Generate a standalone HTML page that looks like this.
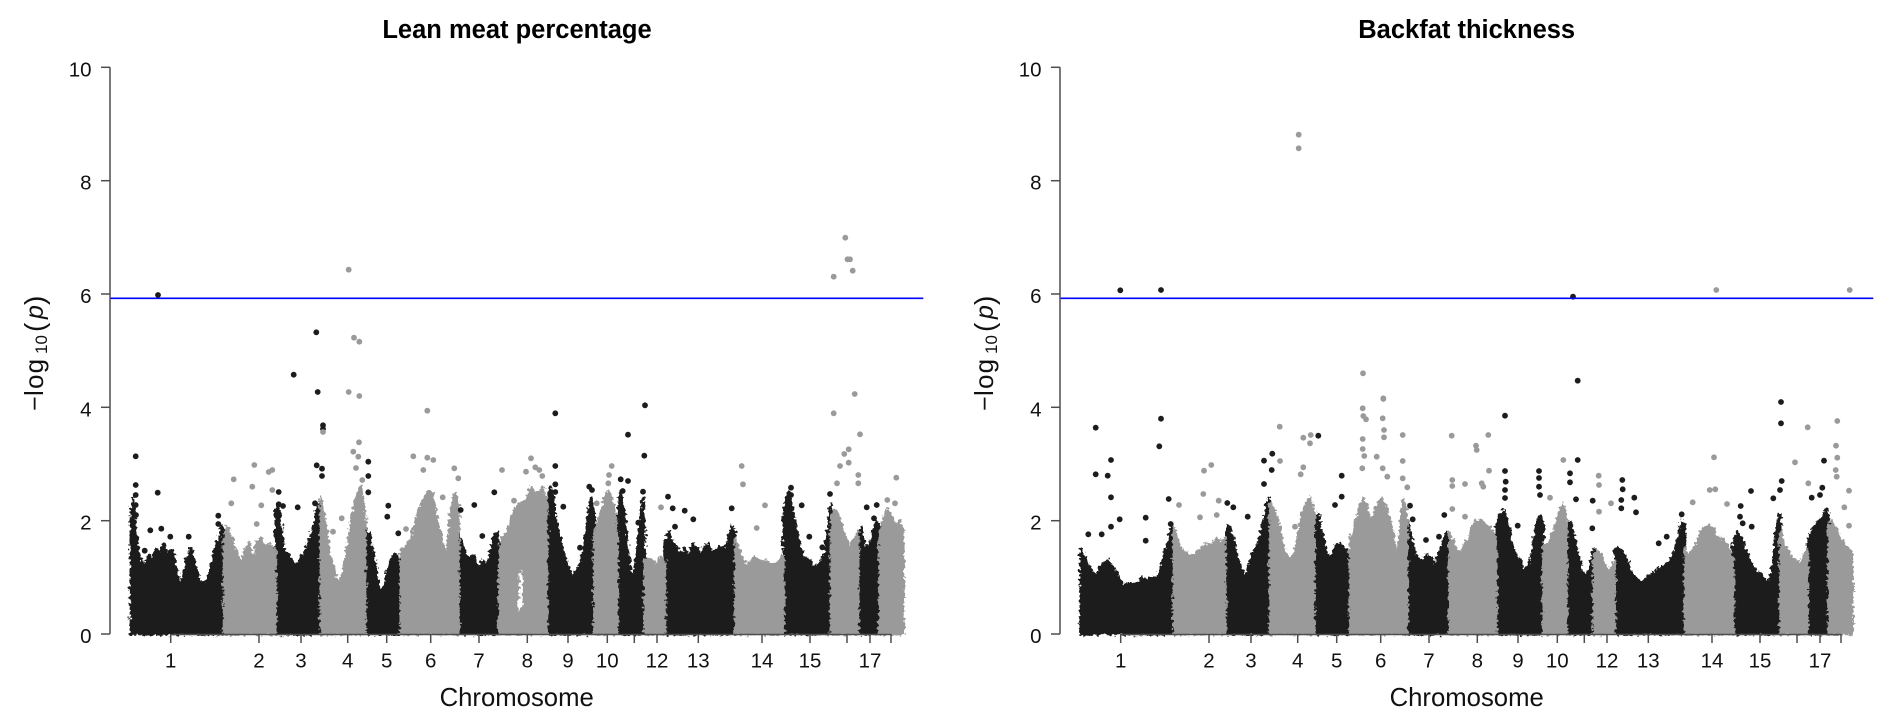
<!DOCTYPE html>
<html><head><meta charset="utf-8"><style>
html,body{margin:0;padding:0;background:#fff;}
svg{display:block;font-family:"Liberation Sans",Arial,sans-serif;}
</style></head><body>
<svg width="1892" height="726" viewBox="0 0 1892 726" xmlns="http://www.w3.org/2000/svg">
<defs>
<filter id="rough" x="-3%" y="-8%" width="106%" height="116%" color-interpolation-filters="sRGB">
<feTurbulence type="fractalNoise" baseFrequency="0.3" numOctaves="2" seed="3" result="n"/>
<feDisplacementMap in="SourceGraphic" in2="n" scale="7" xChannelSelector="R" yChannelSelector="G"/>
</filter>
</defs>
<rect width="1892" height="726" fill="#fff"/>

<!-- ================= LEFT PANEL ================= -->
<g>
<text x="517" y="38" text-anchor="middle" font-size="25.5" font-weight="bold" fill="#000">Lean meat percentage</text>
<g filter="url(#rough)">
<g transform="matrix(1 0 0 -56.67 0 634)" stroke-linejoin="round">
<g fill="#1c1c1c" stroke="#1c1c1c" stroke-width="2.5">
<polygon vector-effect="non-scaling-stroke" points="131,0 131,2.2 133,2.4 135,1.9 138,1.5 141,1.3 145,1.2 149,1.4 152,1.3 156,1.5 160,1.4 164,1.6 168,1.4 172,1.5 176,1.2 180,0.8 184,1.1 188,1.4 191,1.5 195,1.2 199,0.95 203,0.9 207,0.9 211,1.2 215,1.5 219,1.7 222,1.9 224,1.7 224,0"/>
<polygon vector-effect="non-scaling-stroke" points="275.7,0 275.7,2.2 278,2.3 281,1.9 284,1.5 288,1.4 292,1.3 296,1.2 300,1.35 304,1.4 308,1.6 312,1.8 315,2.0 318,2.3 320.7,2.2 320.7,0"/>
<polygon vector-effect="non-scaling-stroke" points="365.3,0 365.3,1.9 368,1.8 371,1.6 374,1.4 377,1.0 380,0.8 383,0.75 386,1.0 389,1.2 392,1.35 396,1.4 400.7,1.3 400.7,0"/>
<polygon vector-effect="non-scaling-stroke" points="458.7,0 458.7,1.8 462,1.6 466,1.4 470,1.3 474,1.4 478,1.1 482,1.3 486,1.2 490,1.4 494,1.7 497,1.8 499.3,1.5 499.3,0"/>
<polygon vector-effect="non-scaling-stroke" points="547,0 547,2.3 550,2.6 553,2.4 556,2.0 560,1.7 564,1.4 568,1.2 572,1.0 576,1.1 580,1.2 584,1.5 588,2.1 591,2.4 594.3,2.2 594.3,0"/>
<polygon vector-effect="non-scaling-stroke" points="617.3,0 617.3,2.0 620,2.5 623,2.3 626,1.8 629,1.3 632,1.0 635,1.1 638,1.6 641,2.1 643,2.4 644.7,1.8 644.7,0"/>
<polygon vector-effect="non-scaling-stroke" points="665,0 665,1.6 669,1.8 673,1.6 677,1.5 681,1.4 685,1.5 689,1.35 693,1.6 697,1.5 701,1.4 705,1.55 709,1.6 713,1.4 717,1.5 721,1.55 725,1.5 729,1.7 732,1.9 735.3,1.8 735.3,0"/>
<polygon vector-effect="non-scaling-stroke" points="783.7,0 783.7,2.1 786,2.4 789,2.5 792,2.2 795,2.0 798,1.7 801,1.5 805,1.35 809,1.3 813,1.2 817,1.2 821,1.3 825,1.4 828,1.9 831,2.3 831,0"/>
<polygon vector-effect="non-scaling-stroke" points="858.3,0 858.3,1.7 861,1.9 864,1.6 867,1.5 870,1.6 873,1.8 876,2.0 879.7,1.9 879.7,0"/>
</g>
<g fill="#9a9a9a" stroke="#9a9a9a" stroke-width="2.5">
<polygon vector-effect="non-scaling-stroke" points="224,0 224,1.7 227,1.9 230,1.8 233,1.6 237,1.4 241,1.2 245,1.5 249,1.6 253,1.3 257,1.6 261,1.7 265,1.5 269,1.6 273,1.5 275.7,1.5 275.7,0"/>
<polygon vector-effect="non-scaling-stroke" points="320.7,0 320.7,2.4 323,2.2 326,1.9 330,1.4 334,1.1 338,0.9 342,1.0 346,1.4 350,1.8 354,2.2 358,2.5 361,2.6 363,2.3 365.3,2.0 365.3,0"/>
<polygon vector-effect="non-scaling-stroke" points="400.7,0 400.7,1.5 404,1.5 408,1.6 412,1.7 416,2.0 420,2.2 424,2.4 428,2.5 432,2.5 436,2.1 440,1.8 444,1.5 447,1.4 450,2.0 453,2.4 456,2.5 458.7,2.2 458.7,0"/>
<polygon vector-effect="non-scaling-stroke" points="499.3,0 499.3,1.5 503,1.7 507,1.8 511,2.0 515,2.2 519,2.3 523,2.3 527,2.4 531,2.6 535,2.5 539,2.5 543,2.6 547,2.3 547,0"/>
<polygon vector-effect="non-scaling-stroke" points="594.3,0 594.3,1.8 598,2.0 602,2.2 606,2.5 610,2.5 614,2.2 617.3,1.8 617.3,0"/>
<polygon vector-effect="non-scaling-stroke" points="644.7,0 644.7,1.3 648,1.35 652,1.3 656,1.2 660,1.35 665,1.3 665,0"/>
<polygon vector-effect="non-scaling-stroke" points="735.3,0 735.3,1.7 739,1.5 743,1.3 747,1.2 751,1.3 755,1.35 759,1.3 763,1.25 767,1.3 771,1.2 775,1.25 779,1.3 783.7,1.4 783.7,0"/>
<polygon vector-effect="non-scaling-stroke" points="831,0 831,2.0 834,2.2 838,2.1 842,1.9 846,1.7 850,1.5 854,1.7 858.3,1.8 858.3,0"/>
<polygon vector-effect="non-scaling-stroke" points="879.7,0 879.7,1.8 883,2.0 887,2.2 891,2.1 895,1.9 899,2.0 903.3,1.8 903.3,0"/>
</g>
<polygon fill="#fff" points="518,0.4 520,1.15 523,1.0 522,0.45"/>
</g>
</g>
<!-- sparse dots -->
<g fill="#1c1c1c">
<circle cx="158" cy="295" r="2.9"/><circle cx="316.3" cy="332.3" r="2.9"/><circle cx="293.7" cy="374.7" r="2.9"/><circle cx="317.7" cy="392" r="2.9"/><circle cx="555.3" cy="413.3" r="2.9"/><circle cx="645" cy="405.3" r="2.9"/><circle cx="323" cy="425.3" r="2.9"/><circle cx="323" cy="429" r="2.9"/><circle cx="135.7" cy="456.3" r="2.9"/><circle cx="135.7" cy="485" r="2.9"/><circle cx="135.7" cy="495" r="2.9"/><circle cx="135.7" cy="505" r="2.9"/><circle cx="136" cy="515" r="2.9"/><circle cx="134" cy="522" r="2.9"/><circle cx="157.7" cy="492.7" r="2.9"/><circle cx="150.3" cy="530.3" r="2.9"/><circle cx="161.3" cy="528.7" r="2.9"/><circle cx="144.7" cy="550.7" r="2.9"/><circle cx="170.3" cy="536.7" r="2.9"/><circle cx="188.7" cy="536.7" r="2.9"/><circle cx="218.3" cy="515.7" r="2.9"/><circle cx="218.3" cy="524" r="2.9"/><circle cx="278.7" cy="492" r="2.9"/><circle cx="297.7" cy="507.3" r="2.9"/><circle cx="316.7" cy="465.3" r="2.9"/><circle cx="322" cy="468.7" r="2.9"/><circle cx="322" cy="476" r="2.9"/><circle cx="315" cy="503.3" r="2.9"/><circle cx="278.7" cy="504.3" r="2.9"/><circle cx="283" cy="506" r="2.9"/><circle cx="368.3" cy="461.7" r="2.9"/><circle cx="368.3" cy="476" r="2.9"/><circle cx="368.3" cy="492.3" r="2.9"/><circle cx="388.3" cy="505.7" r="2.9"/><circle cx="387.3" cy="516.7" r="2.9"/><circle cx="398.3" cy="533.3" r="2.9"/><circle cx="460.7" cy="510" r="2.9"/><circle cx="474.3" cy="505" r="2.9"/><circle cx="494.3" cy="492.3" r="2.9"/><circle cx="482.3" cy="536" r="2.9"/><circle cx="555.3" cy="466" r="2.9"/><circle cx="555.3" cy="484.3" r="2.9"/><circle cx="555.3" cy="492" r="2.9"/><circle cx="563.3" cy="506.7" r="2.9"/><circle cx="580" cy="547.7" r="2.9"/><circle cx="589.3" cy="486.7" r="2.9"/><circle cx="592" cy="490" r="2.9"/><circle cx="620.7" cy="479.3" r="2.9"/><circle cx="628" cy="481" r="2.9"/><circle cx="622.7" cy="491" r="2.9"/><circle cx="628" cy="434.7" r="2.9"/><circle cx="644.3" cy="455.7" r="2.9"/><circle cx="643" cy="491.7" r="2.9"/><circle cx="638.3" cy="522.7" r="2.9"/><circle cx="668" cy="496.7" r="2.9"/><circle cx="672.7" cy="508.3" r="2.9"/><circle cx="684.7" cy="510.7" r="2.9"/><circle cx="693.3" cy="519.3" r="2.9"/><circle cx="731.7" cy="508.3" r="2.9"/><circle cx="675" cy="526.7" r="2.9"/><circle cx="791" cy="487.7" r="2.9"/><circle cx="791" cy="495" r="2.9"/><circle cx="801.7" cy="505.3" r="2.9"/><circle cx="809.3" cy="536.7" r="2.9"/><circle cx="822.3" cy="547.3" r="2.9"/><circle cx="830" cy="494" r="2.9"/><circle cx="866.7" cy="507.3" r="2.9"/><circle cx="876.7" cy="505" r="2.9"/><circle cx="874" cy="518.3" r="2.9"/>
</g>
<g fill="#9a9a9a">
<circle cx="348.7" cy="269.7" r="2.9"/><circle cx="354" cy="337.7" r="2.9"/><circle cx="359.3" cy="341.7" r="2.9"/><circle cx="348.7" cy="392" r="2.9"/><circle cx="359.3" cy="396" r="2.9"/><circle cx="427.3" cy="410.7" r="2.9"/><circle cx="845.3" cy="237.7" r="2.9"/><circle cx="847.5" cy="259.3" r="2.9"/><circle cx="850" cy="259.3" r="2.9"/><circle cx="852.7" cy="270.7" r="2.9"/><circle cx="833.7" cy="276.7" r="2.9"/><circle cx="854.7" cy="394" r="2.9"/><circle cx="833.7" cy="413.3" r="2.9"/><circle cx="323" cy="432" r="2.9"/><circle cx="233.7" cy="479.3" r="2.9"/><circle cx="254.3" cy="465" r="2.9"/><circle cx="268.7" cy="472" r="2.9"/><circle cx="272.3" cy="470" r="2.9"/><circle cx="252.3" cy="486.7" r="2.9"/><circle cx="272.3" cy="490" r="2.9"/><circle cx="261.3" cy="505.3" r="2.9"/><circle cx="231.3" cy="503.3" r="2.9"/><circle cx="256.7" cy="524" r="2.9"/><circle cx="359" cy="442.3" r="2.9"/><circle cx="353.3" cy="451.7" r="2.9"/><circle cx="358.3" cy="456.7" r="2.9"/><circle cx="341.7" cy="518.3" r="2.9"/><circle cx="333" cy="531.7" r="2.9"/><circle cx="362.3" cy="480" r="2.9"/><circle cx="356" cy="468" r="2.9"/><circle cx="413.3" cy="456.3" r="2.9"/><circle cx="427.3" cy="457.7" r="2.9"/><circle cx="433.3" cy="460" r="2.9"/><circle cx="423.3" cy="470" r="2.9"/><circle cx="454.3" cy="468.3" r="2.9"/><circle cx="458.3" cy="478.3" r="2.9"/><circle cx="406" cy="529" r="2.9"/><circle cx="442.7" cy="497.3" r="2.9"/><circle cx="502" cy="470" r="2.9"/><circle cx="526" cy="471.7" r="2.9"/><circle cx="531" cy="458.3" r="2.9"/><circle cx="535.3" cy="467.3" r="2.9"/><circle cx="539.3" cy="470" r="2.9"/><circle cx="542.3" cy="476" r="2.9"/><circle cx="514" cy="500.7" r="2.9"/><circle cx="611.7" cy="466" r="2.9"/><circle cx="609" cy="475" r="2.9"/><circle cx="608.3" cy="483.3" r="2.9"/><circle cx="596.7" cy="503.3" r="2.9"/><circle cx="661" cy="507.3" r="2.9"/><circle cx="741.7" cy="466" r="2.9"/><circle cx="743" cy="484.3" r="2.9"/><circle cx="765" cy="505.3" r="2.9"/><circle cx="756.7" cy="528" r="2.9"/><circle cx="840" cy="466" r="2.9"/><circle cx="844.3" cy="454" r="2.9"/><circle cx="848.7" cy="449.3" r="2.9"/><circle cx="848.7" cy="462.7" r="2.9"/><circle cx="860" cy="434.3" r="2.9"/><circle cx="858.3" cy="475" r="2.9"/><circle cx="858.3" cy="483.3" r="2.9"/><circle cx="837" cy="483.3" r="2.9"/><circle cx="896.3" cy="477.7" r="2.9"/><circle cx="887.3" cy="500" r="2.9"/><circle cx="895" cy="503.3" r="2.9"/>
</g>
<rect x="115" y="637.2" width="800" height="16" fill="#fff"/>
<line x1="110" y1="298.3" x2="923.3" y2="298.3" stroke="#0000ff" stroke-width="1.6"/>
<g stroke="#4d4d4d" stroke-width="1.5" fill="none">
<line x1="110" y1="67.3" x2="110" y2="634"/>
<line x1="101" y1="634" x2="110" y2="634"/><line x1="101" y1="520.7" x2="110" y2="520.7"/><line x1="101" y1="407.3" x2="110" y2="407.3"/><line x1="101" y1="294" x2="110" y2="294"/><line x1="101" y1="180.7" x2="110" y2="180.7"/><line x1="101" y1="67.3" x2="110" y2="67.3"/>
<line x1="170.7" y1="634.5" x2="891" y2="634.5"/>
<path d="M170.7 634v9M259 634v9M301 634v9M347.7 634v9M386.7 634v9M430.7 634v9M479 634v9M527.3 634v9M568 634v9M607.3 634v9M634.3 634v9M657 634v9M698.3 634v9M762 634v9M810 634v9M847 634v9M870 634v9M891 634v9"/>
</g>
<g font-size="20.5" fill="#111" text-anchor="end">
<text x="91.5" y="643">0</text><text x="91.5" y="529.7">2</text><text x="91.5" y="416.3">4</text><text x="91.5" y="303">6</text><text x="91.5" y="189.7">8</text><text x="91.5" y="76.3">10</text>
</g>
<g font-size="20.5" fill="#111" text-anchor="middle">
<text x="170.7" y="667.3">1</text><text x="259" y="667.3">2</text><text x="301" y="667.3">3</text><text x="347.7" y="667.3">4</text><text x="386.7" y="667.3">5</text><text x="430.7" y="667.3">6</text><text x="479" y="667.3">7</text><text x="527.3" y="667.3">8</text><text x="568" y="667.3">9</text><text x="607.3" y="667.3">10</text><text x="657" y="667.3">12</text><text x="698.3" y="667.3">13</text><text x="762" y="667.3">14</text><text x="810" y="667.3">15</text><text x="870" y="667.3">17</text>
</g>
<text x="516.7" y="706" text-anchor="middle" font-size="25.7" fill="#111">Chromosome</text>
<g transform="translate(43,0) rotate(-90)" fill="#111">
<text x="-411" y="0" font-size="25">−</text>
<text x="-396" y="0" font-size="26" letter-spacing="1.2">log</text>
<text x="-354" y="4" font-size="17">10</text>
<text x="-332" y="1" font-size="28">(</text>
<text x="-319" y="0" font-size="25" font-style="italic">p</text>
<text x="-305" y="1" font-size="28">)</text>
</g>
</g>

<!-- ================= RIGHT PANEL ================= -->
<g>
<text x="1466.7" y="38" text-anchor="middle" font-size="25.5" font-weight="bold" fill="#000">Backfat thickness</text>
<g filter="url(#rough)">
<g transform="matrix(1 0 0 -56.67 0 634)" stroke-linejoin="round">
<g fill="#1c1c1c" stroke="#1c1c1c" stroke-width="2.5">
<polygon vector-effect="non-scaling-stroke" points="1080.7,0 1080.7,1.5 1084,1.4 1088,1.25 1092,1.1 1096,1.0 1100,1.2 1104,1.25 1108,1.3 1112,1.2 1116,1.1 1120,0.95 1124,0.85 1128,0.9 1132,0.85 1136,0.9 1140,0.95 1144,1.0 1148,0.95 1152,1.0 1156,0.95 1160,1.1 1164,1.4 1168,1.6 1171,1.9 1173.7,1.8 1173.7,0"/>
<polygon vector-effect="non-scaling-stroke" points="1225.3,0 1225.3,1.8 1229,1.9 1233,1.7 1237,1.4 1241,1.15 1245,1.0 1249,1.2 1253,1.45 1257,1.55 1261,1.8 1265,2.1 1268,2.4 1270,2.3 1270,0"/>
<polygon vector-effect="non-scaling-stroke" points="1314.3,0 1314.3,2.0 1318,2.1 1322,1.8 1326,1.5 1330,1.3 1334,1.5 1338,1.6 1342,1.55 1346,1.5 1350,1.4 1350,0"/>
<polygon vector-effect="non-scaling-stroke" points="1407.3,0 1407.3,2.0 1411,1.7 1415,1.4 1419,1.3 1423,1.3 1427,1.4 1431,1.35 1435,1.2 1439,1.4 1443,1.6 1446,1.8 1449.3,1.6 1449.3,0"/>
<polygon vector-effect="non-scaling-stroke" points="1496.3,0 1496.3,1.9 1500,2.1 1504,2.2 1508,1.9 1512,1.6 1516,1.4 1520,1.3 1524,1.1 1528,1.2 1532,1.4 1536,1.9 1540,2.1 1543.3,1.9 1543.3,0"/>
<polygon vector-effect="non-scaling-stroke" points="1566.7,0 1566.7,1.9 1570,2.0 1574,1.75 1578,1.4 1582,1.1 1586,1.0 1590,1.2 1593.7,1.5 1593.7,0"/>
<polygon vector-effect="non-scaling-stroke" points="1614.7,0 1614.7,1.5 1619,1.5 1623,1.45 1627,1.3 1631,1.1 1635,1.0 1639,0.95 1643,0.9 1647,1.0 1651,1.05 1655,1.1 1659,1.15 1663,1.2 1667,1.25 1671,1.3 1675,1.5 1679,1.8 1682,2.0 1685,1.9 1685,0"/>
<polygon vector-effect="non-scaling-stroke" points="1733.3,0 1733.3,1.6 1737,1.8 1741,1.7 1745,1.5 1749,1.35 1753,1.2 1757,1.1 1761,1.05 1765,0.95 1769,0.9 1773,1.2 1776,1.8 1778,2.0 1780.3,2.1 1780.3,0"/>
<polygon vector-effect="non-scaling-stroke" points="1807.7,0 1807.7,1.6 1811,1.8 1815,1.9 1819,2.0 1823,2.1 1826,2.2 1828.7,2.1 1828.7,0"/>
</g>
<g fill="#9a9a9a" stroke="#9a9a9a" stroke-width="2.5">
<polygon vector-effect="non-scaling-stroke" points="1173.7,0 1173.7,1.9 1177,1.7 1181,1.5 1185,1.45 1189,1.4 1193,1.35 1197,1.45 1201,1.5 1205,1.6 1209,1.55 1213,1.6 1217,1.7 1221,1.6 1225.3,1.7 1225.3,0"/>
<polygon vector-effect="non-scaling-stroke" points="1270,0 1270,2.3 1274,2.2 1278,2.0 1282,1.6 1286,1.4 1290,1.3 1294,1.4 1298,1.7 1302,2.1 1306,2.3 1310,2.4 1314.3,2.1 1314.3,0"/>
<polygon vector-effect="non-scaling-stroke" points="1350,0 1350,1.7 1354,1.8 1358,2.1 1362,2.4 1366,2.3 1370,2.0 1374,2.1 1378,2.3 1382,2.4 1386,2.2 1390,2.0 1394,1.7 1397,1.3 1400,1.8 1403,2.4 1407.3,2.1 1407.3,0"/>
<polygon vector-effect="non-scaling-stroke" points="1449.3,0 1449.3,1.8 1453,1.6 1457,1.5 1461,1.4 1465,1.6 1469,1.7 1473,1.9 1477,2.0 1481,2.0 1485,1.9 1489,1.9 1493,1.8 1496.3,1.7 1496.3,0"/>
<polygon vector-effect="non-scaling-stroke" points="1543.3,0 1543.3,1.6 1547,1.55 1551,1.7 1555,1.9 1559,2.1 1563,2.3 1566.7,2.0 1566.7,0"/>
<polygon vector-effect="non-scaling-stroke" points="1593.7,0 1593.7,1.4 1597,1.5 1601,1.4 1605,1.2 1609,1.1 1612,1.2 1614.7,1.3 1614.7,0"/>
<polygon vector-effect="non-scaling-stroke" points="1685,0 1685,1.5 1689,1.4 1693,1.5 1697,1.6 1701,1.8 1705,1.9 1709,1.9 1713,1.85 1717,1.7 1721,1.7 1725,1.6 1729,1.5 1733.3,1.3 1733.3,0"/>
<polygon vector-effect="non-scaling-stroke" points="1780.3,0 1780.3,1.8 1784,1.6 1788,1.45 1792,1.35 1796,1.3 1800,1.2 1804,1.4 1807.7,1.5 1807.7,0"/>
<polygon vector-effect="non-scaling-stroke" points="1828.7,0 1828.7,1.9 1832,2.0 1836,1.85 1840,1.7 1844,1.6 1848,1.5 1852.3,1.4 1852.3,0"/>
</g>
</g>
</g>
<g fill="#1c1c1c">
<circle cx="1120.3" cy="290.3" r="2.9"/><circle cx="1161" cy="290" r="2.9"/><circle cx="1573" cy="296.7" r="2.9"/><circle cx="1577.7" cy="380.7" r="2.9"/><circle cx="1095.7" cy="427.7" r="2.9"/><circle cx="1095.7" cy="474.3" r="2.9"/><circle cx="1111" cy="460" r="2.9"/><circle cx="1107.7" cy="475.7" r="2.9"/><circle cx="1111" cy="497.3" r="2.9"/><circle cx="1119.7" cy="519.3" r="2.9"/><circle cx="1088.3" cy="534.3" r="2.9"/><circle cx="1101.7" cy="534.3" r="2.9"/><circle cx="1111" cy="526.7" r="2.9"/><circle cx="1145.7" cy="517.7" r="2.9"/><circle cx="1145.7" cy="540.7" r="2.9"/><circle cx="1161" cy="418.7" r="2.9"/><circle cx="1159.3" cy="446.3" r="2.9"/><circle cx="1168.7" cy="499" r="2.9"/><circle cx="1170.7" cy="524" r="2.9"/><circle cx="1227.3" cy="503" r="2.9"/><circle cx="1233.3" cy="507.3" r="2.9"/><circle cx="1247.7" cy="516.7" r="2.9"/><circle cx="1264" cy="460.7" r="2.9"/><circle cx="1272.3" cy="453.7" r="2.9"/><circle cx="1264" cy="484" r="2.9"/><circle cx="1271.7" cy="470" r="2.9"/><circle cx="1318.3" cy="435.7" r="2.9"/><circle cx="1341.7" cy="475.7" r="2.9"/><circle cx="1335" cy="505" r="2.9"/><circle cx="1341.7" cy="496.7" r="2.9"/><circle cx="1410" cy="505.7" r="2.9"/><circle cx="1412.7" cy="519.3" r="2.9"/><circle cx="1426" cy="540" r="2.9"/><circle cx="1439" cy="536.7" r="2.9"/><circle cx="1444.3" cy="515" r="2.9"/><circle cx="1505" cy="415.7" r="2.9"/><circle cx="1505" cy="471" r="2.9"/><circle cx="1505.7" cy="481.7" r="2.9"/><circle cx="1505" cy="490" r="2.9"/><circle cx="1505" cy="498" r="2.9"/><circle cx="1517.7" cy="525.7" r="2.9"/><circle cx="1539" cy="471" r="2.9"/><circle cx="1539" cy="478" r="2.9"/><circle cx="1539" cy="486.7" r="2.9"/><circle cx="1540" cy="495" r="2.9"/><circle cx="1577.7" cy="460" r="2.9"/><circle cx="1570" cy="473.3" r="2.9"/><circle cx="1570" cy="482.3" r="2.9"/><circle cx="1576" cy="499.3" r="2.9"/><circle cx="1592.7" cy="500.7" r="2.9"/><circle cx="1592.3" cy="528.3" r="2.9"/><circle cx="1622.3" cy="480" r="2.9"/><circle cx="1622.7" cy="489.3" r="2.9"/><circle cx="1621.3" cy="500" r="2.9"/><circle cx="1621.3" cy="508.3" r="2.9"/><circle cx="1634.3" cy="497.7" r="2.9"/><circle cx="1636" cy="512.3" r="2.9"/><circle cx="1666.7" cy="536.7" r="2.9"/><circle cx="1658.7" cy="543.3" r="2.9"/><circle cx="1681.7" cy="514.3" r="2.9"/><circle cx="1740.7" cy="506" r="2.9"/><circle cx="1751" cy="491" r="2.9"/><circle cx="1740" cy="516.7" r="2.9"/><circle cx="1742.7" cy="523.3" r="2.9"/><circle cx="1751.7" cy="526.7" r="2.9"/><circle cx="1781" cy="402" r="2.9"/><circle cx="1781" cy="423.3" r="2.9"/><circle cx="1781.7" cy="481" r="2.9"/><circle cx="1780" cy="490" r="2.9"/><circle cx="1773.3" cy="498.3" r="2.9"/><circle cx="1824" cy="460.7" r="2.9"/><circle cx="1822.3" cy="487.7" r="2.9"/><circle cx="1811.7" cy="497.7" r="2.9"/><circle cx="1820" cy="495" r="2.9"/>
</g>
<g fill="#9a9a9a">
<circle cx="1298.7" cy="134.7" r="2.9"/><circle cx="1298.7" cy="148.3" r="2.9"/><circle cx="1716.3" cy="290" r="2.9"/><circle cx="1849.7" cy="290" r="2.9"/><circle cx="1363" cy="373.3" r="2.9"/><circle cx="1383.3" cy="398.3" r="2.9"/><circle cx="1179" cy="505" r="2.9"/><circle cx="1204" cy="470.7" r="2.9"/><circle cx="1211.3" cy="465" r="2.9"/><circle cx="1203.3" cy="494" r="2.9"/><circle cx="1218.7" cy="500.7" r="2.9"/><circle cx="1200" cy="517.3" r="2.9"/><circle cx="1216.7" cy="515" r="2.9"/><circle cx="1279.7" cy="426.7" r="2.9"/><circle cx="1280" cy="461" r="2.9"/><circle cx="1303.3" cy="467.3" r="2.9"/><circle cx="1300.7" cy="474.3" r="2.9"/><circle cx="1303.3" cy="437.7" r="2.9"/><circle cx="1310.7" cy="435" r="2.9"/><circle cx="1310" cy="443.3" r="2.9"/><circle cx="1295" cy="526.7" r="2.9"/><circle cx="1362.7" cy="408.3" r="2.9"/><circle cx="1363.3" cy="416" r="2.9"/><circle cx="1366" cy="419.3" r="2.9"/><circle cx="1362.7" cy="439" r="2.9"/><circle cx="1362.7" cy="449" r="2.9"/><circle cx="1364.3" cy="456" r="2.9"/><circle cx="1362.3" cy="468.3" r="2.9"/><circle cx="1383.3" cy="399" r="2.9"/><circle cx="1382.7" cy="418.3" r="2.9"/><circle cx="1384" cy="430" r="2.9"/><circle cx="1384" cy="437.3" r="2.9"/><circle cx="1376.7" cy="456.7" r="2.9"/><circle cx="1382.7" cy="468.3" r="2.9"/><circle cx="1387.3" cy="476.7" r="2.9"/><circle cx="1402.7" cy="435" r="2.9"/><circle cx="1402.7" cy="461" r="2.9"/><circle cx="1402.7" cy="478.3" r="2.9"/><circle cx="1407.3" cy="487.3" r="2.9"/><circle cx="1451.7" cy="435.7" r="2.9"/><circle cx="1452.3" cy="480" r="2.9"/><circle cx="1452.3" cy="486" r="2.9"/><circle cx="1452.3" cy="509" r="2.9"/><circle cx="1465" cy="484" r="2.9"/><circle cx="1476" cy="445.7" r="2.9"/><circle cx="1476.7" cy="450" r="2.9"/><circle cx="1488.3" cy="435" r="2.9"/><circle cx="1489" cy="470.7" r="2.9"/><circle cx="1481.7" cy="483.3" r="2.9"/><circle cx="1483.3" cy="486.7" r="2.9"/><circle cx="1465" cy="516.7" r="2.9"/><circle cx="1563.3" cy="460" r="2.9"/><circle cx="1550" cy="497.7" r="2.9"/><circle cx="1598.7" cy="475.7" r="2.9"/><circle cx="1599" cy="485" r="2.9"/><circle cx="1611" cy="503.3" r="2.9"/><circle cx="1599" cy="511.7" r="2.9"/><circle cx="1714" cy="457.3" r="2.9"/><circle cx="1709.7" cy="490" r="2.9"/><circle cx="1715.3" cy="489.3" r="2.9"/><circle cx="1692.7" cy="502.3" r="2.9"/><circle cx="1727" cy="504" r="2.9"/><circle cx="1795" cy="462.3" r="2.9"/><circle cx="1807.7" cy="427.3" r="2.9"/><circle cx="1808.3" cy="483.3" r="2.9"/><circle cx="1837.3" cy="421" r="2.9"/><circle cx="1836" cy="445.7" r="2.9"/><circle cx="1837.3" cy="457.7" r="2.9"/><circle cx="1835.7" cy="470" r="2.9"/><circle cx="1836.7" cy="476.7" r="2.9"/><circle cx="1849" cy="490.7" r="2.9"/><circle cx="1844.3" cy="507.3" r="2.9"/><circle cx="1849" cy="525.7" r="2.9"/>
</g>
<rect x="1065" y="637.2" width="800" height="16" fill="#fff"/>
<line x1="1060" y1="298.3" x2="1873.3" y2="298.3" stroke="#0000ff" stroke-width="1.6"/>
<g stroke="#4d4d4d" stroke-width="1.5" fill="none">
<line x1="1060" y1="67.3" x2="1060" y2="634"/>
<line x1="1051" y1="634" x2="1060" y2="634"/><line x1="1051" y1="520.7" x2="1060" y2="520.7"/><line x1="1051" y1="407.3" x2="1060" y2="407.3"/><line x1="1051" y1="294" x2="1060" y2="294"/><line x1="1051" y1="180.7" x2="1060" y2="180.7"/><line x1="1051" y1="67.3" x2="1060" y2="67.3"/>
<line x1="1120.7" y1="634.5" x2="1841" y2="634.5"/>
<path d="M1120.7 634v9M1209 634v9M1251 634v9M1297.7 634v9M1336.7 634v9M1380.7 634v9M1429 634v9M1477.3 634v9M1518 634v9M1557.3 634v9M1584.3 634v9M1607 634v9M1648.3 634v9M1712 634v9M1760 634v9M1797 634v9M1820 634v9M1841 634v9"/>
</g>
<g font-size="20.5" fill="#111" text-anchor="end">
<text x="1041.5" y="643">0</text><text x="1041.5" y="529.7">2</text><text x="1041.5" y="416.3">4</text><text x="1041.5" y="303">6</text><text x="1041.5" y="189.7">8</text><text x="1041.5" y="76.3">10</text>
</g>
<g font-size="20.5" fill="#111" text-anchor="middle">
<text x="1120.7" y="667.3">1</text><text x="1209" y="667.3">2</text><text x="1251" y="667.3">3</text><text x="1297.7" y="667.3">4</text><text x="1336.7" y="667.3">5</text><text x="1380.7" y="667.3">6</text><text x="1429" y="667.3">7</text><text x="1477.3" y="667.3">8</text><text x="1518" y="667.3">9</text><text x="1557.3" y="667.3">10</text><text x="1607" y="667.3">12</text><text x="1648.3" y="667.3">13</text><text x="1712" y="667.3">14</text><text x="1760" y="667.3">15</text><text x="1820" y="667.3">17</text>
</g>
<text x="1466.7" y="706" text-anchor="middle" font-size="25.7" fill="#111">Chromosome</text>
<g transform="translate(993,0) rotate(-90)" fill="#111">
<text x="-411" y="0" font-size="25">−</text>
<text x="-396" y="0" font-size="26" letter-spacing="1.2">log</text>
<text x="-354" y="4" font-size="17">10</text>
<text x="-332" y="1" font-size="28">(</text>
<text x="-319" y="0" font-size="25" font-style="italic">p</text>
<text x="-305" y="1" font-size="28">)</text>
</g>
</g>
</svg>
</body></html>
